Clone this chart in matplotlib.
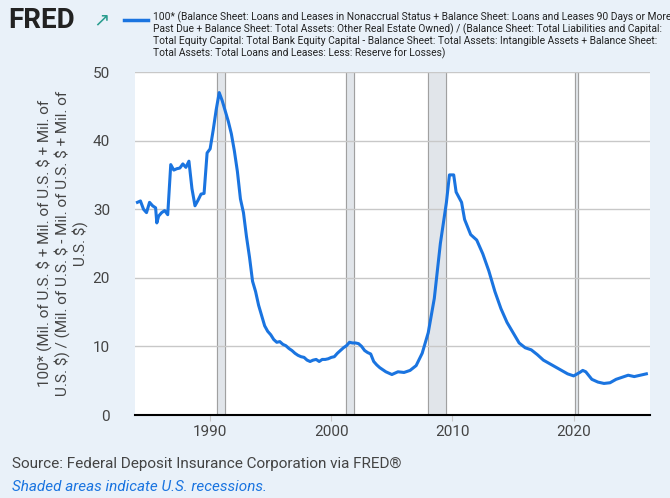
import matplotlib
matplotlib.use("Agg")
import matplotlib.pyplot as plt
import numpy as np

plt.rcParams["font.family"] = ["Roboto", "DejaVu Sans"]

# quarterly-ish readings
years = [1984.0, 1984.25, 1984.5, 1984.75, 1985.0, 1985.25, 1985.5, 1985.6, 1985.75, 1986.0,
         1986.25, 1986.5, 1986.75, 1987.0, 1987.25, 1987.5, 1987.75, 1988.0, 1988.25, 1988.5,
         1988.75, 1989.0, 1989.25, 1989.5, 1989.75, 1990.0, 1990.25, 1990.5, 1990.75, 1991.0,
         1991.25, 1991.5, 1991.75, 1992.0, 1992.25, 1992.5, 1992.75, 1993.0, 1993.25, 1993.5,
         1993.75, 1994.0, 1994.25, 1994.5, 1994.75, 1995.0, 1995.25, 1995.5, 1995.75, 1996.0,
         1996.25, 1996.5, 1996.75, 1997.0, 1997.25, 1997.5, 1997.75, 1998.0, 1998.25, 1998.5,
         1998.75, 1999.0, 1999.25, 1999.5, 1999.75, 2000.0, 2000.25, 2000.5, 2000.75, 2001.0,
         2001.25, 2001.5, 2001.75, 2002.0, 2002.25, 2002.5, 2002.75, 2003.0, 2003.25, 2003.5,
         2003.75, 2004.0, 2004.5, 2005.0, 2005.5, 2006.0, 2006.5, 2007.0, 2007.5, 2008.0,
         2008.5, 2009.0, 2009.5, 2009.75, 2010.1, 2010.3, 2010.75, 2011.0, 2011.5, 2012.0,
         2012.5, 2013.0, 2013.5, 2014.0, 2014.5, 2015.0, 2015.5, 2016.0, 2016.5, 2017.0,
         2017.5, 2018.0, 2018.5, 2019.0, 2019.5, 2020.0, 2020.5, 2020.75, 2021.0, 2021.5,
         2022.0, 2022.5, 2023.0, 2023.5, 2024.0, 2024.5, 2025.0, 2025.5, 2026.0]
values = [31.0, 31.2, 30.0, 29.5, 31.0, 30.5, 30.2, 28.0, 29.0, 29.5,
          29.8, 29.2, 36.5, 35.7, 35.9, 36.0, 36.6, 36.1, 37.0, 33.0,
          30.5, 31.3, 32.2, 32.3, 38.2, 38.8, 41.5, 44.5, 47.0, 45.8,
          44.3, 42.8, 41.0, 38.5, 35.5, 31.5, 29.5, 26.0, 23.0, 19.5,
          18.0, 16.0, 14.5, 13.0, 12.2, 11.7, 11.0, 10.6, 10.7, 10.3,
          10.1, 9.7, 9.4, 9.0, 8.7, 8.5, 8.4, 8.0, 7.8, 8.0,
          8.1, 7.8, 8.1, 8.1, 8.2, 8.4, 8.5, 9.0, 9.4, 9.8,
          10.1, 10.6, 10.5, 10.5, 10.4, 10.0, 9.4, 9.1, 8.9, 7.8,
          7.3, 6.9, 6.3, 5.9, 6.3, 6.2, 6.5, 7.2, 9.0, 12.0,
          17.0, 25.0, 31.0, 35.0, 35.0, 32.5, 31.0, 28.5, 26.3, 25.5,
          23.5, 21.0, 18.0, 15.5, 13.5, 12.0, 10.5, 9.8, 9.5, 8.8,
          8.0, 7.5, 7.0, 6.5, 6.0, 5.7, 6.2, 6.5, 6.3, 5.2,
          4.8, 4.6, 4.7, 5.2, 5.5, 5.8, 5.6, 5.8, 6.0]
recessions = [(1990.55, 1991.2), (2001.2, 2001.9), (2007.95, 2009.5), (2020.1, 2020.35)]

bg = "#e9f1f9"
fig = plt.figure(figsize=(6.70, 4.98), dpi=100, facecolor=bg)
ax = fig.add_axes([135 / 670, 1 - 415 / 498, 515 / 670, 343 / 498])
ax.set_facecolor("white")

for a, b in recessions:
    ax.axvspan(a, b, color="#e1e5ea", zorder=0)
    ax.axvline(a, color="#a0a0a0", lw=0.8, zorder=0)
    ax.axvline(b, color="#a0a0a0", lw=0.8, zorder=0)

ax.plot(years, values, color="#1a74e0", lw=2.2, zorder=3)

ax.set_xlim(1983.8, 2026.3)
ax.set_ylim(0, 50)
ax.set_yticks(range(0, 51, 10))
ax.set_xticks([1990, 2000, 2010, 2020])
ax.grid(axis="y", color="#c8c8c8", lw=1)
for s in ["top", "right", "left"]:
    ax.spines[s].set_visible(False)
ax.spines["bottom"].set_color("black")
ax.spines["bottom"].set_linewidth(1.5)
ax.tick_params(axis="y", length=0, labelsize=11, labelcolor="#444444", pad=18)
ax.tick_params(axis="x", length=4, color="#c8c8c8", labelsize=11, labelcolor="#444444")

ax.set_ylabel("100* (Mil. of U.S. \\$ + Mil. of U.S. \\$ + Mil. of\nU.S. \\$) / (Mil. of U.S. \\$ - Mil. of U.S. \\$ + Mil. of\nU.S. \\$)",
              fontsize=11, color="#444444", labelpad=3)

fig.text(8 / 670, 1 - 20 / 498, "FRED", fontsize=20, fontweight="bold", color="#222222", va="center")
fig.text(93 / 670, 1 - 20 / 498, "\u2197", fontsize=14, color="#2a9d8f", va="center")
fig.add_artist(plt.Line2D([124 / 670, 148 / 670], [1 - 20 / 498] * 2, color="#1a74e0", lw=2.5))
fig.text(153 / 670, 1 - 11 / 498,
         "100* (Balance Sheet: Loans and Leases in Nonaccrual Status + Balance Sheet: Loans and Leases 90 Days or More\n"
         "Past Due + Balance Sheet: Total Assets: Other Real Estate Owned) / (Balance Sheet: Total Liabilities and Capital:\n"
         "Total Equity Capital: Total Bank Equity Capital - Balance Sheet: Total Assets: Intangible Assets + Balance Sheet:\n"
         "Total Assets: Total Loans and Leases: Less: Reserve for Losses)",
         fontsize=7.4, color="#222222", va="top", linespacing=1.12, stretch="condensed")
fig.text(12 / 670, 1 - 464 / 498, "Source: Federal Deposit Insurance Corporation via FRED\u00ae",
         fontsize=11, color="#444444", va="center")
fig.text(12 / 670, 1 - 487 / 498, "Shaded areas indicate U.S. recessions.",
         fontsize=11, color="#1a74e0", style="italic", va="center")

fig.savefig("out.png", dpi=100, facecolor=bg)
